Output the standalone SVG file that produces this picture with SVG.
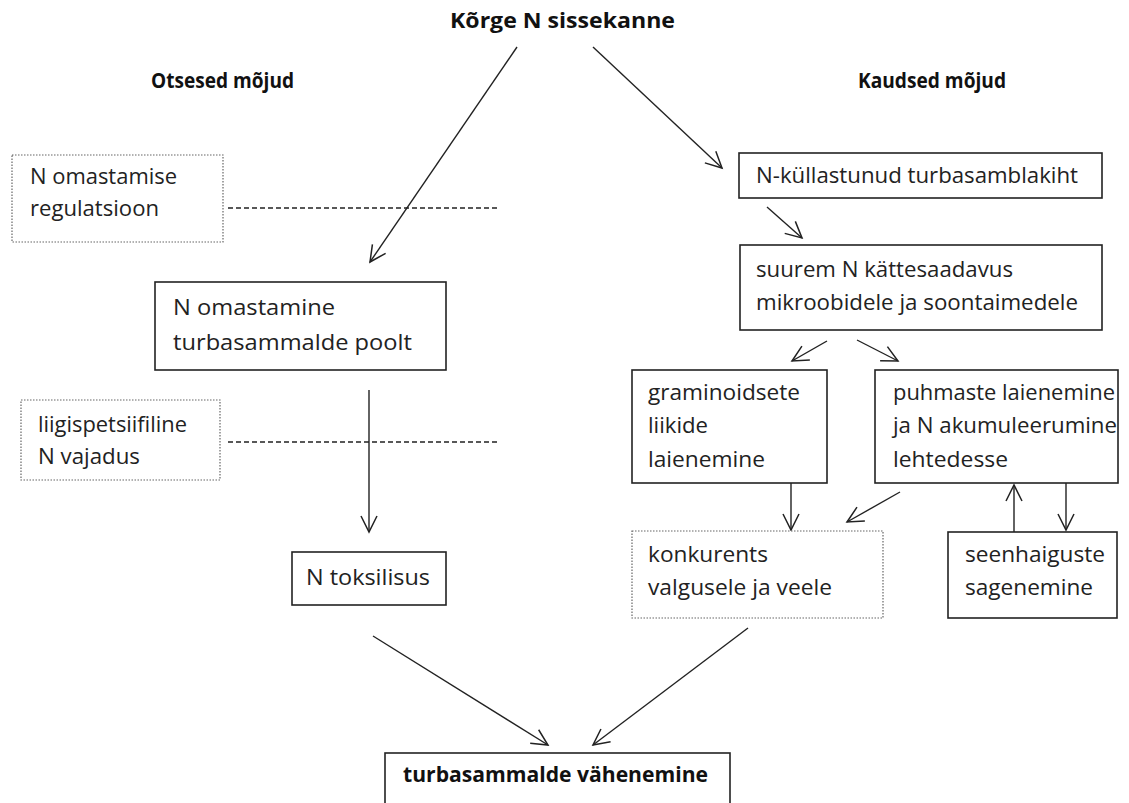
<svg xmlns="http://www.w3.org/2000/svg" width="1129" height="803" viewBox="0 0 1129 803">
<style>
.t{font-family:"Open Sans",Lato,"Liberation Sans",sans-serif;font-size:21px;fill:#222}
.b{font-family:"Open Sans",Lato,"Liberation Sans",sans-serif;font-size:21px;font-weight:bold;fill:#111}
.bt{font-size:22px}
.box{fill:#fff;stroke:#222;stroke-width:1.6}
.dot{fill:#fff;stroke:#666;stroke-width:1.2;stroke-dasharray:1.5 1.5}
.c{stroke:#222;stroke-width:1.4;fill:none;marker-end:url(#ah)}
.d{stroke:#222;stroke-width:1.3;fill:none;stroke-dasharray:5 3}
</style>
<defs>
<marker id="ah" markerUnits="userSpaceOnUse" markerWidth="20" markerHeight="20" viewBox="-17 -10 20 20" refX="0" refY="0" orient="auto">
<path d="M-16,-8 L0,0 L-16,8" fill="none" stroke="#222" stroke-width="1.5"/>
</marker>
</defs>
<rect width="1129" height="803" fill="#fff"/>
<g id="title"><text class="b bt" x="450" y="28" textLength="225" lengthAdjust="spacingAndGlyphs">Kõrge N sissekanne</text></g>
<g id="hdr-left"><text class="b" x="151" y="88" textLength="143" lengthAdjust="spacingAndGlyphs">Otsesed mõjud</text></g>
<g id="hdr-right"><text class="b" x="858" y="88" textLength="148" lengthAdjust="spacingAndGlyphs">Kaudsed mõjud</text></g>
<g id="connectors">
<line class="c" x1="517" y1="47" x2="370" y2="262"/>
<line class="c" x1="593" y1="47" x2="722" y2="168"/>
<line class="d" x1="228" y1="208" x2="500" y2="208"/>
<line class="d" x1="228" y1="442" x2="500" y2="442"/>
<line class="c" x1="369" y1="390" x2="369" y2="532"/>
<line class="c" x1="373" y1="636" x2="548" y2="745"/>
<line class="c" x1="748" y1="628" x2="593" y2="745"/>
<line class="c" x1="767" y1="207" x2="802" y2="238"/>
<line class="c" x1="827" y1="341" x2="792" y2="361"/>
<line class="c" x1="857" y1="340" x2="898" y2="361"/>
<line class="c" x1="791" y1="483" x2="791" y2="530"/>
<line class="c" x1="900" y1="492" x2="847" y2="522"/>
<line class="c" x1="1014" y1="532" x2="1014" y2="485"/>
<line class="c" x1="1066" y1="483" x2="1066" y2="530"/>
</g>
<g id="n-regulatsioon"><rect class="dot" x="12" y="155" width="211" height="87"/><text class="t" x="30" y="184" textLength="147" lengthAdjust="spacingAndGlyphs">N omastamise</text><text class="t" x="30" y="216" textLength="129" lengthAdjust="spacingAndGlyphs">regulatsioon</text></g>
<g id="n-omastamine"><rect class="box" x="155" y="282" width="291" height="88"/><text class="t" x="173" y="315" textLength="162" lengthAdjust="spacingAndGlyphs">N omastamine</text><text class="t" x="173" y="350" textLength="239" lengthAdjust="spacingAndGlyphs">turbasammalde poolt</text></g>
<g id="n-vajadus"><rect class="dot" x="21" y="400" width="199" height="80"/><text class="t" x="38" y="432" textLength="149" lengthAdjust="spacingAndGlyphs">liigispetsiifiline</text><text class="t" x="38" y="464" textLength="102" lengthAdjust="spacingAndGlyphs">N vajadus</text></g>
<g id="n-toksilisus"><rect class="box" x="292" y="552" width="154" height="53"/><text class="t" x="306" y="585" textLength="124" lengthAdjust="spacingAndGlyphs">N toksilisus</text></g>
<g id="n-vahenemine"><rect class="box" x="385" y="753" width="345" height="60"/><text class="b" x="403" y="782" textLength="305" lengthAdjust="spacingAndGlyphs">turbasammalde vähenemine</text></g>
<g id="n-kihtkullastunud"><rect class="box" x="739" y="153" width="363" height="45"/><text class="t" x="756" y="183" textLength="322" lengthAdjust="spacingAndGlyphs">N-küllastunud turbasamblakiht</text></g>
<g id="n-kattesaadavus"><rect class="box" x="740" y="245" width="362" height="85"/><text class="t" x="756" y="277" textLength="257" lengthAdjust="spacingAndGlyphs">suurem N kättesaadavus</text><text class="t" x="756" y="310" textLength="322" lengthAdjust="spacingAndGlyphs">mikroobidele ja soontaimedele</text></g>
<g id="n-graminoid"><rect class="box" x="632" y="370" width="195" height="113"/><text class="t" x="648" y="400" textLength="152" lengthAdjust="spacingAndGlyphs">graminoidsete</text><text class="t" x="648" y="433" textLength="60" lengthAdjust="spacingAndGlyphs">liikide</text><text class="t" x="648" y="467" textLength="117" lengthAdjust="spacingAndGlyphs">laienemine</text></g>
<g id="n-puhmaste"><rect class="box" x="875" y="370" width="243" height="113"/><text class="t" x="893" y="400" textLength="222" lengthAdjust="spacingAndGlyphs">puhmaste laienemine</text><text class="t" x="893" y="433" textLength="224" lengthAdjust="spacingAndGlyphs">ja N akumuleerumine</text><text class="t" x="893" y="467" textLength="115" lengthAdjust="spacingAndGlyphs">lehtedesse</text></g>
<g id="n-konkurents"><rect class="dot" x="632" y="531" width="251" height="87"/><text class="t" x="648" y="562" textLength="120" lengthAdjust="spacingAndGlyphs">konkurents</text><text class="t" x="648" y="595" textLength="184" lengthAdjust="spacingAndGlyphs">valgusele ja veele</text></g>
<g id="n-seenhaigused"><rect class="box" x="948" y="532" width="169" height="86"/><text class="t" x="965" y="562" textLength="140" lengthAdjust="spacingAndGlyphs">seenhaiguste</text><text class="t" x="965" y="595" textLength="128" lengthAdjust="spacingAndGlyphs">sagenemine</text></g>
</svg>
